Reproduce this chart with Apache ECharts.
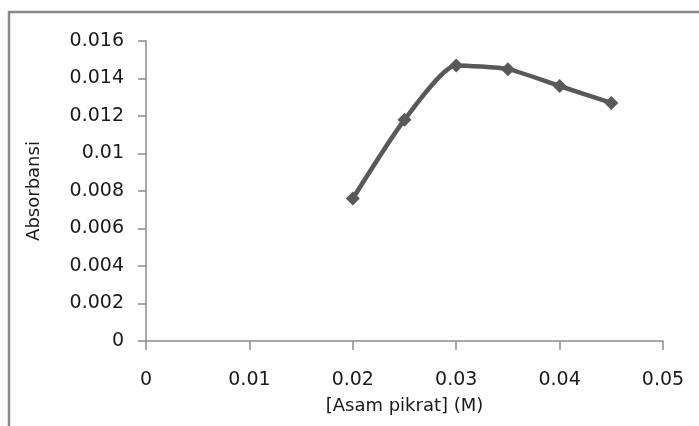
<!DOCTYPE html>
<html>
<head>
<meta charset="utf-8">
<script src="https://cdn.jsdelivr.net/npm/echarts@6/dist/echarts.min.js"></script>
<style>
html,body{margin:0;padding:0;background:#fff;}
#c{width:699px;height:426px;}
</style>
</head>
<body>
<div id="c"></div>
<script>
var xValues = [0.02, 0.025, 0.03, 0.035, 0.04, 0.045];
var absorbance = [0.0076, 0.0118, 0.0147, 0.0145, 0.0136, 0.0127];
var xTicks = [0, 0.01, 0.02, 0.03, 0.04, 0.05];
var yTicks = [0, 0.002, 0.004, 0.006, 0.008, 0.01, 0.012, 0.014, 0.016];
var xTitle = '[Asam pikrat] (M)';
var yTitle = 'Absorbansi';

var pts = xValues.map(function (x, i) { return [x, absorbance[i]]; });
var font = 'DejaVu Sans';
var chart = echarts.init(document.getElementById('c'));
chart.setOption({
  animation: false,
  backgroundColor: '#fff',
  graphic: [{
    type: 'rect',
    shape: { x: 9, y: 12, width: 900, height: 600 },
    style: { fill: 'none', stroke: '#8a8a8a', lineWidth: 2.5 },
    silent: true
  }],
  grid: { left: 146, top: 41, right: 36, bottom: 85 },
  xAxis: {
    type: 'value', min: 0, max: 0.05, interval: 0.01,
    splitLine: { show: false },
    axisLine: { show: true, lineStyle: { color: '#8c8c8c', width: 1.5 } },
    axisTick: { show: true, length: 9, lineStyle: { color: '#8c8c8c', width: 1.5 } },
    axisLabel: {
      margin: 30, color: '#1a1a1a', fontFamily: font, fontSize: 19,
      formatter: function (v) { var t = xTicks.find(function (k) { return Math.abs(k - v) < 1e-9; }); return t === undefined ? '' : String(t); }
    },
    name: xTitle, nameLocation: 'middle', nameGap: 56,
    nameTextStyle: { color: '#1a1a1a', fontFamily: font, fontSize: 18 }
  },
  yAxis: {
    type: 'value', min: 0, max: 0.016, interval: 0.002,
    splitLine: { show: false },
    axisLine: { show: true, lineStyle: { color: '#8c8c8c', width: 1.5 } },
    axisTick: { show: true, length: 8, lineStyle: { color: '#8c8c8c', width: 1.5 } },
    axisLabel: {
      margin: 22, color: '#1a1a1a', fontFamily: font, fontSize: 19,
      formatter: function (v) { var t = yTicks.find(function (k) { return Math.abs(k - v) < 1e-9; }); return t === undefined ? '' : String(t); }
    },
    name: yTitle, nameLocation: 'middle', nameGap: 103, nameRotate: 90,
    nameTextStyle: { color: '#1a1a1a', fontFamily: font, fontSize: 18 }
  },
  series: [{
    type: 'line',
    data: pts,
    smooth: 0.2,
    symbol: 'diamond',
    symbolSize: 14,
    lineStyle: { color: '#595959', width: 4.5 },
    itemStyle: { color: '#595959' }
  }]
});
</script>
</body>
</html>
